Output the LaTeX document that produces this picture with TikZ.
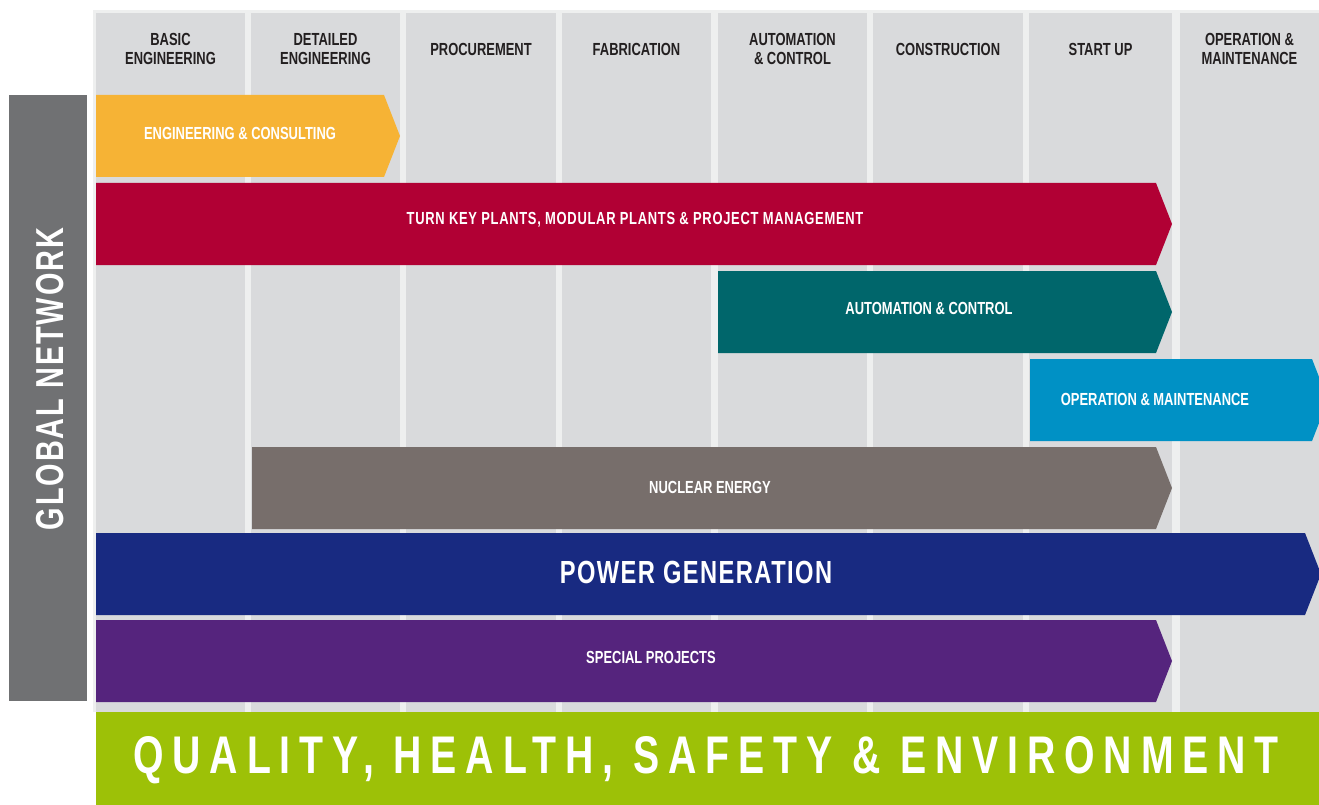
\documentclass[tikz,border=0pt]{standalone}
\usepackage{fontspec}
\setmainfont{Liberation Sans}[FakeStretch=0.74]
\newfontfamily\qhsefont{Liberation Sans}[FakeStretch=0.74, LetterSpace=16.7]
\newfontfamily\netfont{Liberation Sans}[FakeStretch=0.74, LetterSpace=5]
\usetikzlibrary{positioning}

\definecolor{colgray}{HTML}{D9DADC}
\definecolor{gapgray}{HTML}{EEEFEF}
\definecolor{engorange}{HTML}{F6B335}
\definecolor{turnred}{HTML}{B10034}
\definecolor{autoteal}{HTML}{00666B}
\definecolor{opblue}{HTML}{0091C5}
\definecolor{nucbrown}{HTML}{776E6B}
\definecolor{powernavy}{HTML}{182A81}
\definecolor{specpurple}{HTML}{55247D}
\definecolor{qhsegreen}{HTML}{9DC107}
\definecolor{netgray}{HTML}{707173}
\definecolor{headtext}{HTML}{231F20}

% band: top y, left x, tip x, colour
\newcommand{\band}[4]{\fill[#4] (#2,#1) -- (#3-16,#1) -- (#3,#1+41) -- (#3-16,#1+82) -- (#2,#1+82) -- cycle;}

\tikzset{
  headlbl/.style={text=headtext, font=\fontsize{17.5}{19}\selectfont\bfseries, align=center},
  bandlbl/.style={text=white, font=\fontsize{17.5}{19}\selectfont\bfseries},
}

\begin{document}
\begin{tikzpicture}[x=1pt, y=-1pt]
\useasboundingbox (0,0) rectangle (1319,805);
\fill[gapgray] (93,10) rectangle (1319,712);
% phase columns
\foreach \xa/\xb/\nm/\lbl in {96/245/be/{BASIC\\ENGINEERING}, 251/400/de/{DETAILED\\ENGINEERING},
    406/556/pr/PROCUREMENT, 562/711/fa/FABRICATION, 718/867/ac/{AUTOMATION\\\& CONTROL},
    873/1023/co/CONSTRUCTION, 1029/1172/su/START UP, 1180/1319/om/{OPERATION \&\\MAINTENANCE}}{
  \fill[colgray] (\xa,13) rectangle (\xb,712);
  \node[headlbl] (head\nm) at ({(\xa+\xb)/2},49) {\lbl};
}

\band{95}{96}{400}{engorange}
\band{183}{96}{1172}{turnred}
\band{271}{718}{1172}{autoteal}
\band{359}{1030}{1328}{opblue}
\band{447}{252}{1172}{nucbrown}
\band{533}{96}{1321}{powernavy}
\band{620}{96}{1172}{specpurple}

\node[bandlbl] (engcons) at (240,133) {ENGINEERING \& CONSULTING};
\node[bandlbl] (turnkey) at (635,220) {\addfontfeature{LetterSpace=4}TURN KEY PLANTS, MODULAR PLANTS \& PROJECT MANAGEMENT};
\node[bandlbl] (autoctrl) at (929,308) {AUTOMATION \& CONTROL};
\node[bandlbl] (opmaint) at (1155,399) {OPERATION \& MAINTENANCE};
\node[bandlbl] (nuclear) at (710,487) {NUCLEAR ENERGY};
\node[bandlbl, font=\fontsize{32}{34}\selectfont\bfseries] (power) at (696,572) {\addfontfeature{LetterSpace=4.5}POWER GENERATION};
\node[bandlbl] (special) at (651,657) {SPECIAL PROJECTS};

% global network bar
\fill[netgray] (9,95) rectangle (87,701);
\node[text=white, rotate=90, font=\netfont\fontsize{39}{40}\selectfont\bfseries] (network) at (50,379) {GLOBAL NETWORK};

% QHSE base
\fill[qhsegreen] (96,712) rectangle (1319,805);
\node[text=white, font=\qhsefont\fontsize{53}{55}\selectfont\bfseries] (qhse) at (706,760) {QUALITY, HEALTH, SAFETY \& ENVIRONMENT};
\end{tikzpicture}
\end{document}
